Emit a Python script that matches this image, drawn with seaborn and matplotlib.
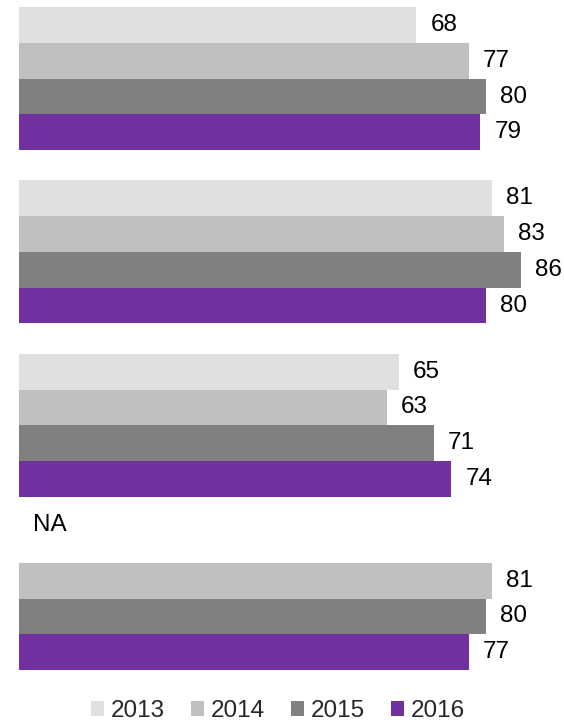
import numpy as np
import pandas as pd
import matplotlib
matplotlib.use("Agg")
import matplotlib.pyplot as plt
import seaborn as sns

# Survey scores per group and year (None = not available)
groups = ["Group 1", "Group 2", "Group 3", "Group 4"]
years = ["2013", "2014", "2015", "2016"]
scores_2013 = [68, 81, 65, None]
scores_2014 = [77, 83, 63, 81]
scores_2015 = [80, 86, 71, 80]
scores_2016 = [79, 80, 74, 77]
year_colors = ["#E0E0E0", "#BFBFBF", "#808080", "#7030A0"]

series = [scores_2013, scores_2014, scores_2015, scores_2016]
rows = []
for yr, vals in zip(years, series):
    for g, v in zip(groups, vals):
        rows.append({"group": g, "year": yr, "score": np.nan if v is None else v})
df = pd.DataFrame(rows)

sns.set_theme(style="white")
plt.rcParams["font.family"] = ["Liberation Sans", "DejaVu Sans"]

W, H = 564, 723
fig = plt.figure(figsize=(W / 100, H / 100), dpi=100)
ax = fig.add_axes([19 / W, 1 - 680 / H, 1 - 19 / W, 680 / H])

# missing values are drawn as zero-length bars so every slot keeps its place
plot_df = df.assign(score=df["score"].fillna(0))
sns.barplot(data=plot_df, y="group", x="score", hue="year", order=groups,
            hue_order=years, palette=year_colors, orient="h", width=0.825,
            dodge=True, saturation=1, linewidth=0, ax=ax, legend=True)

for cont, yr in zip(ax.containers, years):
    vals = df[df["year"] == yr].set_index("group").loc[groups, "score"]
    present = ["" if np.isnan(v) else f"{v:.0f}" for v in vals]
    ax.bar_label(cont, labels=present, padding=10.2, fontsize=17.5, color="black")
    for bar, v in zip(cont, vals):
        if np.isnan(v):
            ax.annotate("NA", xy=(0, bar.get_y() + bar.get_height() / 2),
                        xytext=(10.2, 14), textcoords="offset points",
                        ha="left", va="center", fontsize=17.5, color="black")

ax.set_xlim(0, (W - 19) / 5.84)
ax.set_ylim(3.470, -0.454)
ax.set_xlabel("")
ax.set_ylabel("")
ax.set_xticks([])
ax.set_yticks([])
for s in ax.spines.values():
    s.set_visible(False)

handles, labels = ax.get_legend_handles_labels()
ax.get_legend().remove()
fig.legend(handles, labels, loc="center", bbox_to_anchor=(278 / W, 1 - 711 / H),
           ncol=4, frameon=False, fontsize=17.5, handlelength=0.535, handleheight=0.535,
           handletextpad=0.28, columnspacing=1.07, borderaxespad=0, borderpad=0)

fig.savefig("out.png", dpi=100)
